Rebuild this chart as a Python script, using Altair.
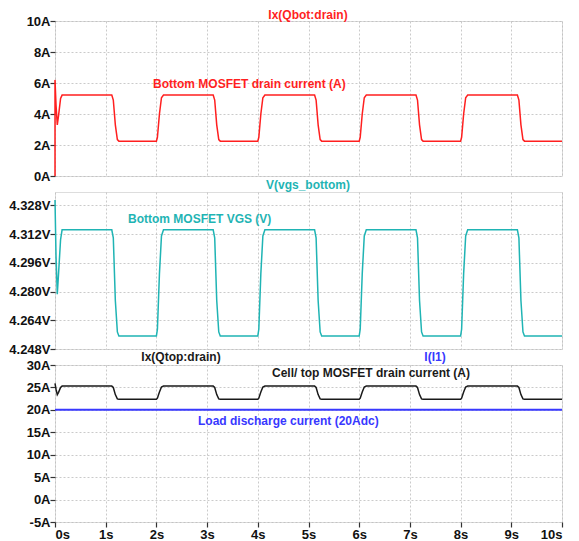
import altair as alt
import pandas as pd

# ---- data ----
TIME_S = [0, 0, 0.02, 0.045, 0.07, 0.11, 0.14,
          1.12, 1.15, 1.19, 1.23, 1.26,
          2.00, 2.02, 2.06, 2.10, 2.14,
          3.12, 3.15, 3.19, 3.23, 3.26,
          4.00, 4.02, 4.06, 4.10, 4.14,
          5.12, 5.15, 5.19, 5.23, 5.26,
          6.00, 6.02, 6.06, 6.10, 6.14,
          7.12, 7.15, 7.19, 7.23, 7.26,
          8.00, 8.02, 8.06, 8.10, 8.14,
          9.12, 9.15, 9.19, 9.23, 9.26,
          10.0]

I_QBOT_A = [0, 6.2, 4.6, 3.3, 3.9, 5.0, 5.22,
            5.22, 4.9, 3.3, 2.35, 2.25,
            2.25, 2.5, 4.0, 5.05, 5.22,
            5.22, 4.9, 3.3, 2.35, 2.25,
            2.25, 2.5, 4.0, 5.05, 5.22,
            5.22, 4.9, 3.3, 2.35, 2.25,
            2.25, 2.5, 4.0, 5.05, 5.22,
            5.22, 4.9, 3.3, 2.35, 2.25,
            2.25, 2.5, 4.0, 5.05, 5.22,
            5.22, 4.9, 3.3, 2.35, 2.25,
            2.25]

V_GS_V = [4.331, 4.331, 4.300, 4.2785, 4.290, 4.309, 4.3144,
          4.3144, 4.310, 4.275, 4.2575, 4.2553,
          4.2553, 4.259, 4.290, 4.311, 4.3144,
          4.3144, 4.310, 4.275, 4.2575, 4.2553,
          4.2553, 4.259, 4.290, 4.311, 4.3144,
          4.3144, 4.310, 4.275, 4.2575, 4.2553,
          4.2553, 4.259, 4.290, 4.311, 4.3144,
          4.3144, 4.310, 4.275, 4.2575, 4.2553,
          4.2553, 4.259, 4.290, 4.311, 4.3144,
          4.3144, 4.310, 4.275, 4.2575, 4.2553,
          4.2553]

I_QTOP_A = [25.9, 25.9, 24.6, 23.4, 23.9, 25.0, 25.3,
            25.3, 25.0, 23.4, 22.45, 22.35,
            22.35, 22.6, 24.0, 25.1, 25.3,
            25.3, 25.0, 23.4, 22.45, 22.35,
            22.35, 22.6, 24.0, 25.1, 25.3,
            25.3, 25.0, 23.4, 22.45, 22.35,
            22.35, 22.6, 24.0, 25.1, 25.3,
            25.3, 25.0, 23.4, 22.45, 22.35,
            22.35, 22.6, 24.0, 25.1, 25.3,
            25.3, 25.0, 23.4, 22.45, 22.35,
            22.35]

LOAD_T = [0, 10]
LOAD_A = [20, 20]

X_TICKS = [0, 1, 2, 3, 4, 5, 6, 7, 8, 9, 10]
Y1_TICKS = [0, 2, 4, 6, 8, 10]
Y2_TICKS = [4.248, 4.264, 4.280, 4.296, 4.312, 4.328]
Y3_TICKS = [-5, 0, 5, 10, 15, 20, 25, 30]

RED = "#ff1f1f"
TEAL = "#1fb4b4"
BLUE = "#3838ff"
BLACK = "#1a1a1a"
FONT = "Liberation Sans"
W = 507

AX = dict(labelFont=FONT, labelFontSize=13, labelFontWeight="bold", labelColor="#111111",
          tickColor="#333333", tickWidth=1.2, gridColor="#bdbdbd", gridDash=[2, 2],
          gridWidth=0.8, domain=False, grid=True)

def series(t, v):
    return pd.DataFrame({"t": t, "v": v, "i": list(range(len(t)))})

def xenc(bottom):
    if bottom:
        axis = alt.Axis(values=X_TICKS, labelExpr="datum.value + 's'", tickSize=5,
                        labelPadding=1, **AX)
    else:
        axis = alt.Axis(values=X_TICKS, labels=False, ticks=False, **AX)
    return alt.X("t:Q", scale=alt.Scale(domain=[0, 10], nice=False, zero=False), axis=axis, title=None)

def yenc(dom, ticks, expr):
    return alt.Y("v:Q", scale=alt.Scale(domain=dom, nice=False, zero=False),
                 axis=alt.Axis(values=ticks, labelExpr=expr, tickSize=5, labelPadding=0, **AX),
                 title=None)

def line(df, color, dom, ticks, expr, bottom=False, width=1.5):
    return alt.Chart(df).mark_line(color=color, strokeWidth=width).encode(
        x=xenc(bottom), y=yenc(dom, ticks, expr), order="i:Q")

def label(text, x, y, color, align="left"):
    return alt.Chart(pd.DataFrame({"label": [text]})).mark_text(
        align=align, baseline="middle", font=FONT, fontSize=12, fontWeight="bold", color=color
    ).encode(x=alt.value(x), y=alt.value(y), text="label:N")

p1 = alt.layer(
    line(series(TIME_S, I_QBOT_A), RED, [0, 10], Y1_TICKS, "datum.value + 'A'"),
    label("Bottom MOSFET drain current (A)", 98, 63, RED),
    label("Ix(Qbot:drain)", 253, -6, RED, "center"),
).properties(width=W, height=155)

p2 = alt.layer(
    line(series(TIME_S, V_GS_V), TEAL, [4.248, 4.3355], Y2_TICKS, "format(datum.value, '.3f') + 'V'"),
    label("Bottom MOSFET VGS (V)", 73, 27, TEAL),
    label("V(vgs_bottom)", 253, -7, TEAL, "center"),
).properties(width=W, height=157)

p3 = alt.layer(
    line(series(LOAD_T, LOAD_A), BLUE, [-5, 30], Y3_TICKS, "datum.value + 'A'", bottom=True, width=2),
    line(series(TIME_S, I_QTOP_A), BLACK, [-5, 30], Y3_TICKS, "datum.value + 'A'", bottom=True),
    label("Cell/ top MOSFET drain current (A)", 217, 8, BLACK),
    label("Load discharge current (20Adc)", 143, 56, BLUE),
    label("Ix(Qtop:drain)", 126, -8, BLACK, "center"),
    label("I(I1)", 380, -8, BLUE, "center"),
).properties(width=W, height=157)

chart = alt.vconcat(p1, p2, p3, spacing=16, bounds="flush").properties(
    padding=0
).configure_view(
    stroke="#333333", strokeWidth=1.5
).configure(background="white")

chart.save("out.html", embed_options={"renderer": "svg", "actions": False})
